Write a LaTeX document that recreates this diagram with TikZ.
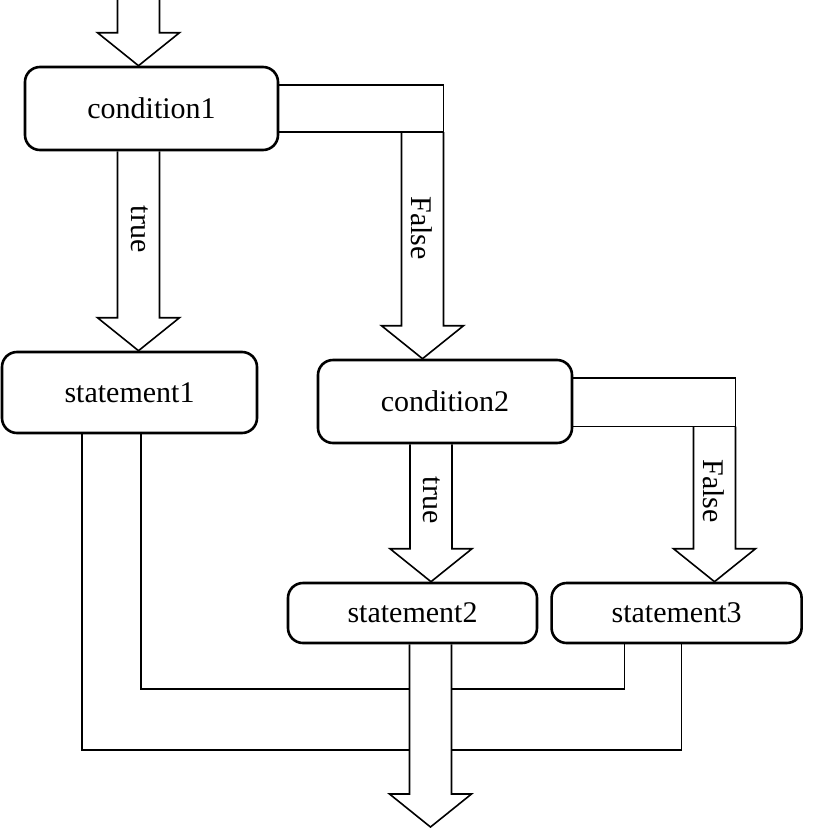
\documentclass[tikz,border=0pt]{standalone}
\usepackage{fontspec}
\setmainfont{Liberation Serif}
\usepackage{tikz}
\usetikzlibrary{calc,positioning}
% hollow block arrow pointing down: #1 = centre of open tail, #2 = tip
\newcommand{\hollowdown}[2]{%
  \draw[pipe] ($(#1)+(-21,0)$) -- ($(#2)+(-21,-33)$) -- ++(-20,0) -- (#2)
    -- ++(41,-33) -- ++(-20,0) -- ($(#1)+(21,0)$);}

\begin{document}
\begin{tikzpicture}[x=1pt,y=-1pt,font=\fontsize{30}{36}\selectfont,
  box/.style={draw,line width=2.6pt,rounded corners=15pt,inner sep=0pt},
  pipe/.style={line width=1.6pt,line join=miter},
  lab/.style={rotate=-90,inner sep=0pt}]
  \useasboundingbox (0,0) rectangle (813,828);
  % ---------------- boxes ------------------------------------------------
  \node[box,minimum width=253pt,minimum height=83pt] (cond1) at (151.5,108.5) {condition1};
  \node[box,minimum width=255pt,minimum height=81pt] (stmt1) at (129.5,392.5) {statement1};
  \node[box,minimum width=254pt,minimum height=83pt] (cond2) at (445,401.5) {condition2};
  \node[box,minimum width=249pt,minimum height=60pt] (stmt2) at (412.5,613) {statement2};
  \node[box,minimum width=250pt,minimum height=60pt,right=12pt of stmt2] (stmt3) {statement3};
  % ---------------- shaft centres -----------------------------------------
  \coordinate (in)  at (138.5,0);
  \coordinate (f1)  at (422.5,0);
  \coordinate (t2)  at (431,0);
  \coordinate (f2)  at (714.5,0);
  \coordinate (out) at (430.5,0);
  \coordinate (outtip) at (430.5,827);
  % ---------------- entry and condition1 ----------------------------------
  \hollowdown{in}{in |- cond1.north}
  \hollowdown{in |- cond1.south}{in |- stmt1.north}
  \node[lab] (true1) at (140,229) {true};
  % false branch: band out of the right side, then down
  \coordinate (f1hi) at ($(cond1.east)+(0,-23.5)$);
  \coordinate (f1lo) at ($(cond1.east)+(0,23.5)$);
  \draw[pipe] (f1hi) -- ($(f1hi -| f1)+(21,0)$) -- ($(f1lo -| f1)+(21,0)$) -- (f1lo);
  \hollowdown{f1lo -| f1}{f1 |- cond2.north}
  \node[lab] (false1) at (422,228) {False};
  % ---------------- condition2 --------------------------------------------
  \hollowdown{t2 |- cond2.south}{t2 |- stmt2.north}
  \node[lab] (true2) at (432,500) {true};
  \coordinate (f2hi) at ($(cond2.east)+(0,-23.5)$);
  \coordinate (f2lo) at ($(cond2.east)+(0,25)$);
  \draw[pipe] (f2hi) -- ($(f2hi -| f2)+(21,0)$) -- ($(f2lo -| f2)+(21,0)$) -- (f2lo);
  \hollowdown{f2lo -| f2}{f2 |- stmt3.north}
  \node[lab] (false2) at (714,491) {False};
  % ---------------- merge into the exit arrow -----------------------------
  \hollowdown{out |- stmt2.south}{outtip}
  \coordinate (row1) at (0,689);
  \coordinate (row2) at (0,750);
  \coordinate (m1) at ($(stmt1.south west)+(81,0)$);
  \coordinate (m2) at ($(stmt1.south west)+(140,0)$);
  \coordinate (m3) at ($(stmt3.south west)+(74,0)$);
  \coordinate (m4) at ($(stmt3.south west)+(131,0)$);
  \draw[pipe] (m2) |- ($(out |- row1)+(-21,0)$);
  \draw[pipe] (m1) |- ($(out |- row2)+(-21,0)$);
  \draw[pipe] (m3) |- ($(out |- row1)+(21,0)$);
  \draw[pipe] (m4) |- ($(out |- row2)+(21,0)$);
\end{tikzpicture}
\end{document}
